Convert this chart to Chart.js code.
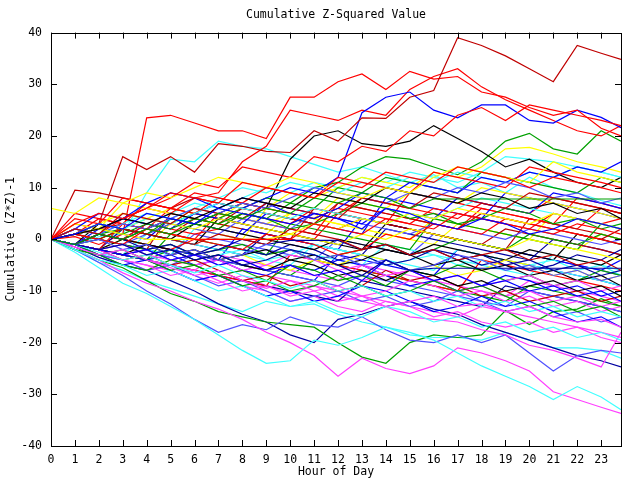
<!DOCTYPE html>
<html>
<head>
<title>Cumulative Z-Squared Value</title>
<script src="https://cdn.jsdelivr.net/npm/chart.js"></script>
<style>
  body { margin: 0; background: #fff; }
</style>
</head>
<body>
<canvas id="myChart" width="640" height="480"></canvas>
<script>
// hour of day for every sample (last one is 23:50)
const hours = [0, 1, 2, 3, 4, 5, 6, 7, 8, 9, 10, 11, 12, 13, 14, 15, 16, 17, 18, 19, 20, 21, 22, 23, 23.83];

// cumulative (z*z)-1, one array per walk
const w01 = [0, 3, 5, 4, 6, 9, 8, 7, 11, 10, 9, 8, 11, 10, 13, 12, 11, 14, 13, 12, 10, 12, 11, 10, 9];
const w02 = [6, 5, 8, 7, 9, 8, 10, 12, 11, 10, 12, 11, 9, 8, 10, 9, 12, 14, 13, 12, 11, 15, 13, 12, 11];
const w03 = [0, 1, 3, 2, 5, 4, 3, 6, 5, 4, 3, 5, 4, 2, 6, 5, 3, 2, 4, 3, 1, 2, 4, 3, 2];
const w04 = [0, -1, 1, 0, 2, 1, 3, 5, 4, 6, 5, 8, 7, 9, 8, 6, 7.8, 7.8, 7.8, 7.8, 7.8, 7.8, 7.8, 7.8, 7.8];
const w05 = [0, -1, -2, -1, -3, -2, -4, -3, -5, -4, -2, -3, -5, -7, -4, -6, -5.6, -5.6, -5.6, -5.6, -5.6, -5.6, -5.6, -5.6, -5.6];
const w06 = [0, -1.5, -3, -2, -4, -5.5, -7, -6, -8, -9.5, -8, -10, -12, -11, -13, -12, -11, -13, -12.5, -14, -13, -15, -16, -15.5, -17];
const w07 = [0, -1, -2.5, -4, -3, -5, -6.5, -5, -7, -8, -9.5, -8, -10, -9, -11, -10, -12, -11, -13, -12, -14, -13, -15, -14, -15];
const w08 = [0, 1, 2, 4, 3, 5, 4, 6, 8, 7, 6, 9, 8, 7, 10, 9, 8, 7, 9, 8, 6, 7, 5, 6, 4];
const w09 = [0, 2, 1, 5, 4, 3, 6, 5, 4, 7, 6, 5, 4, 8, 7, 6, 9, 8, 7, 6, 9, 8, 7, 6, 5];
const w10 = [0, -1, 0, -2, -1, -3, -2, -4, -3, -1, -2, -4, -3, -5, -4, -6, -5, -3, -4, -6, -5, -7, -6, -8, -7];
const w11 = [0, 1, 0, -1, 2, 1, 0, 0, 0, 0, 0, 3, 2, 1, 4, 3, 2, 5, 4, 3, 2, 1, 3, 2, 1];
const w12 = [0, 1, 2, 1, 0, 0, 0, 0, 0, 0, 1, 3, 2, 4, 3, 5, 4, 6, 5, 4, 3, 5, 4, 3, 2];
const w13 = [0, -1, -2, -3, -2, -4, -3, -5, -4, -6, -5, -7, -6, -8, -4, -6, -8, -7, -9, -8, -10, -9, -11, -10, -12];
const w14 = [0, -1, -3, -2, -4, -6, -5, -7, -9, -8, -10, -9, -7, -9, -11, -10, -8, -10, -9, -11, -13, -12, -14, -13, -15];
const w15 = [0, -1, -2, -4, -5, -7, -6, -8, -10, -9, -11, -10, -9, -11, -10, -8, -9, -11, -10, -12, -11, -13, -12, -14, -13];
const w16 = [0, 1, 3, 2, 4, 3, 5, 7, 6, 5, 4, 6, 5, 4, 3, 5, 4, 6, 8, 7, 6, 5, 4, 3, 2];
const w17 = [0, -1, -2, -3, -1, -2, -4, -3, -5, -6, -4, -5, -7, -6, -8, -6, -7, -9, -8, -10, -9, -8, -10, -9, -11];
const w18 = [0, 1, 0, 2, 1, 0, -1, 1, 0, -1, 2, 1, 0, -2, -1, -3, -2, -4, -3, -2, -4, -3, -5, -4, -6];
const w19 = [0, 2, 1, 3, 2, 4, 6, 5, 7, 6, 8, 10, 9, 8, 7, 9, 8, 10, 9, 11, 10, 8, 9, 7, 8];
const w20 = [0, -1, 1, 0, -2, -1, -3, -2, 0, -1, -0.2, -0.2, -0.2, -2, -1, -3, -2, -4, -3, -5, -4, -6, -5, -7, -6];
const w21 = [0, 4, 3, 8, 7, 6, 9, 8, 7, 10, 9, 8, 12, 11, 10, 9, 13, 12, 11, 10, 14, 13, 12, 11, 10];
const w22 = [0, 1, 2, 1, 3, 2, 4, 3, 5, 4, 2, 3, 5, 7, 6, 4, 5, 3, 4, 6, 5, 3, 4, 2, 3];
const w23 = [0, 2, 5, 4, 7, 9, 8, 6, 8, 7, 5, 4, 6, 9, 8, 11, 10, 9, 12, 11, 13, 12, 14, 13, 15];
const w24 = [0, -1, -2, -1, -3, -4, -3, -5, -4, -6, -5, -7, -6, -5, -7, -6, -8, -7, -9, -8, -7, -9, -8, -10, -9];
const w25 = [0, -2, -4, -5, -7, -6, -8, -10, -9, -11, -13, -12, -14, -15, -13, -14, -16, -15, -17, -16, -18, -17, -19, -18, -19.5];
const w26 = [0, 1, 3, 5, 4, 3, 2, 4, 3, 2, 1, 0, -1, 1, 0, 2, 1, 0, -1, -2, 0, -1, -2, -3, -4];
const w27 = [0, -1, -2, 0, -1, -3, -2, -4, -3, -2, -4, -3, -5, -4, -2, -3, -5, -4, -6, -5, -7, -6, -8, -7, -9];
const w28 = [0, -1, 1, 0, -1, -2, 0, -1, -2, 1, 0, -1, -3, -2, 1, 0, 3, 2, 1, 4, 3, 2, 1, 0, -1];
const w29 = [0, -2, -3, -5, -6, -4, -5, -7, -6, -8, -5, -6, -8, -7, -9, -6, -7, -5, -6, -8, -7, -9, -8, -6, -7];
const w30 = [0, -1, -3, -5, -4, -6, -8, -7, -9, -11, -10, -12, -11, -9, -10, -12, -14, -13, -11, -13, -12, -14, -16, -15, -17];
const w31 = [0, -1, -2, -4, -3, -5, -4, -6, -8, -7, -9, -8, -10, -9, -6, -8, -7, -9, -11, -10, -12, -11, -10, -12, -11];
const w32 = [0, -1, -3, -4, -6, -5, -7, -9, -8, -10, -12, -11, -10, -12, -11, -13, -12, -10, -12, -14, -13, -15, -14, -16, -15];
const w33 = [0, -1, -2, -3, -2, -4, -5, -4, -6, -5, -3, -4, -6, -8, -7, -6, -8, -10, -9, -11, -10, -12, -11, -13, -12];
const w34 = [0, 2, 1, 3, 5, 4, 6, 8, 10, 9, 11, 10, 9, 11, 10, 12, 11, 13, 12, 11, 13, 12, 14, 13, 12];
const w35 = [0, -1, -2, 0, -1, -3, -2, -4, -3, -5, -6, -4, -5, -3, -4, -6, -5, -7, -6, -4, -5, -7, -6, -8, -7];
const w36 = [0, 5, 4, 3, 7, 6, 5, 8, 7, 6, 5, 4, 6, 5, 4, 3, 6, 5, 4, 3, 2, 5, 4, 3, 4];
const w37 = [0, -1, 0, 2, 1, 4, 3, 2, 5, 4, 7, 6, 10, 9, 12, 11, 10, 9, 13, 12, 11, 10, 9, 12, 11];
const w38 = [0, 1, 2, 4, 3, 2, 5, 4, 3, 7, 6, 5, 4, 3, 6, 5, 4, 8, 7, 6, 5, 9, 8, 7, 6];
const w39 = [0, 1, 3, 2, 1, 0, 3, 2, 1, 0, -1, -2, 0, -1, -2, -3, -1, -2, -3, -4, -2, -3, -4, -5, -3];
const w40 = [0, -1, -2, -3, -2, -4, -3, -1, -2, -3, -1, -2, -4, -3, -5, -4, -2, -3, -5, -4, -6, -5, -3, -4, -2];
const w41 = [0, -1, -3, -4, -5, -6, -8, -7, -9, -10, -12, -11, -13, -14, -12, -13, -15, -14, -16, -17, -16, -18, -17, -19, -20];
const w42 = [0, 1, 0, -1, 1, 3, 2, 1, 4, 3, 2, 5, 4, 3, 2, 1, 3, 2, 1, 0, 2, 1, 0, -1, 0];
const w43 = [0, 1, 2, 3, 2, 1, 4, 3, 6, 5, 4, 3, 7, 6, 5, 4, 3, 2, 5, 4, 3, 2, 1, 0, 2];
const w44 = [0, 1, 0, 2, 4, 3, 6, 5, 4, 3, 5, 4, 8, 7, 6, 9, 8, 7, 10, 9, 8, 7, 6, 5, 4];
const w45 = [0, -1, -2, -1, -3, -2, -4, -3, -2, -4, -3, -1, -2, -3, -5, -4, -3, -5, -4, -6, -5, -4, -6, -5, -7];
const w46 = [0, 2, 1, 0, 3, 2, 1, 2, 5, 4, 3, 6, 5, 8, 7, 6, 5, 4, 7, 6, 5, 8, 7, 6, 5];
const w47 = [0, -1, -2, -3, -4, -3, -5, -4, -6, -7, -5, -6, -4, -5, -7, -9, -8, -10, -9, -7, -8, -10, -9, -11, -10];
const w48 = [0, 1, 0, -1, -2, -1, -3, -2, -1, -3, -2, -4, -3, -2, -1, -3, -2, 0, -1, -2, 1, 0, -1, 1, 0];
const w49 = [0, 9.5, 9, 8, 7, 6, 8, 7, 6, 5, 4, 3, 2, 4, 3, 2, 1, 0, -1, 2, 1, 0, -1, -2, -3];
const w67 = [0, -1, 2, 1, 0, 4, 3, 2, 1, 5, 4, 3, 2, 1, 8, 7, 6, 5, 4, 9, 8, 7, 6, 5, 4];
const w68 = [0, -1, -2, 3, 2, 1, 0, 5, 4, 3, 2, 1, 7, 6, 5, 4, 3, 2, 6, 5, 4, 3, 8, 7, 6];
const w69 = [0, -1, -2, -3, -4, 1, 0, -1, -2, -3, 3, 2, 1, 0, -1, -2, 4, 3, 2, 1, 0, -1, -2, 3, 2];
const w70 = [0, -1, -2, -3, -4, -5, -6, -3, -4, -5, -6, -7, -8, -5, -6, -7, -8, -9, -10, -11, -8, -9, -10, -11, -12];
const w71 = [0, -1, -2, -3, 1, 0, -1, -2, -3, -4, -5, -1, -2, -3, -4, -5, -6, -2, -3, -4, -5, -6, -7, -8, -9];
const w72 = [0, -1, -2, 2, 1, 0, -1, -2, -3, 1, 0, -1, -2, -3, 2, 1, 0, -1, -2, -3, -4, 0, -1, -2, -3];
const w73 = [0, 2, 1, 0, -1, 3, 2, 1, 0, 6, 5, 4, 3, 2, 1, 0, 4, 3, 2, 1, 0, -1, -2, 1, 0];
const w74 = [0, -1, -2, -3, -4, -5, -3, -4, -5, -6, -7, -8, -9, -7, -8, -9, -10, -11, -12, -13, -10, -11, -12, -13, -14];
const w75 = [0, -1, 3, 2, 1, 0, -1, 4, 3, 2, 1, 0, -1, -2, 3, 2, 1, 0, -1, -2, -3, -4, 1, 0, -1];
const w76 = [0, 2, 1, 0, -1, -2, -3, -4, 2, 1, 0, -1, -2, 4, 3, 2, 1, 0, -1, -2, -3, -4, -5, -6, -4];
const w77 = [0, -1, -2, -3, -4, -5, -6, -7, -8, -9, -3, -4, -5, -6, -7, -8, -9, -10, -4, -5, -6, -7, -8, -9, -10];
const w78 = [0, 1, 0, -1, -2, 5, 4, 3, 2, 1, 0, 6, 5, 4, 3, 2, 1, 0, -1, -2, 4, 3, 2, 1, 0];
const w79 = [0, -1, -2, -3, -4, -2, -3, -4, -5, -6, -7, -4, -5, -6, -7, -8, -9, -10, -11, -12, -9, -10, -11, -12, -13];
const w80 = [0, -1, -2, -3, -4, -5, -6, -7, -6, -7, -8, -9, -10, -11, -12, -13, -14, -15, -13, -14, -15, -16, -17, -18, -19];
const w81 = [0, 1, 0, -1, -2, -3, 2, 1, 0, -1, -2, -3, -4, -5, -1, -2, -3, -4, -5, -6, -7, -3, -4, -5, -6];
const w82 = [0, -1, 1, 0, -1, -2, -3, -4, -5, -6, -7, -8, -3, -4, -5, -6, -7, -2, -3, -4, -5, -6, -7, -8, -9];
const w83 = [0, 3, 2, 7, 6, 5, 4, 3, 2, 1, 5, 4, 3, 2, 1, 0, -1, 3, 2, 1, 0, 5, 4, 3, 2];
const w84 = [0, -1, -2, -3, -4, -5, -6, -7, -8, -9, -10, -11, -12, -8, -9, -10, -11, -12, -13, -9, -10, -11, -12, -13, -14];
const w85 = [0, 1, 4, 3, 2, 6, 5, 4, 3, 2, 1, 0, 5, 4, 3, 9, 8, 7, 6, 5, 4, 3, 2, 6, 5];
const w86 = [0, -1, 0, -1, -2, -3, 1, 0, -1, -2, -3, -4, 0, -1, -2, -3, 1, 0, -1, -2, -3, -4, -5, -6, -7];
const w50 = [0, 1, 3, 16, 13.5, 16, 13, 18.5, 18, 17, 16.8, 21, 19, 23.5, 23.4, 27.5, 28.8, 39, 37.5, 35.5, 33, 30.5, 37.5, 36, 34.8];
const w51 = [0, 0.5, -1, 1, 23.5, 24, 22.5, 21, 21, 19.5, 27.5, 27.5, 30.5, 32, 29, 32.5, 31, 31.5, 28.5, 27.5, 25.5, 24, 25, 21.5, 20];
const w52 = [0, 3, 2, 4, 6, 8, 11, 10, 14, 13, 12, 16, 15, 18, 17, 21, 20, 24, 25.5, 23, 26, 25, 24, 23, 22];
const w53 = [0, 2, 1, 0, 3, 2, 5, 7, 6, 8, 10, 9, 12, 24.5, 27.5, 28.5, 25, 23.5, 26, 26, 23, 22.5, 25, 23.6, 21.6];
const w54 = [0, -1, 1, 0, 2, 4, 3, 5, 7, 6, 15.5, 20, 21, 18.5, 18, 19, 22, 19.5, 17, 14, 15.5, 13, 11, 10, 12];
const w55 = [0, 2, 1, 4, 6, 5, 8, 9, 15, 18, 25, 24, 23, 25, 24, 29, 31.5, 33, 29.5, 27, 25, 23, 21, 20, 22];
const w56 = [0, -1, 1, 2, 1, 3, 5, 4, 6, 8, 7, 10, 11, 14, 16, 15.5, 14, 12.5, 15, 19, 20.5, 17.5, 16.5, 21, 19];
const w57 = [0, -1, 0.5, 1, 9, 15.5, 15, 19, 18, 17.5, 16, 14.5, 13, 14, 12.5, 11, 12.5, 10, 11, 9, 12, 10, 9, 7.5, 6.5];
const w58 = [0, 1, 3, 2, 4, 6, 5, 4, 7, 6, 9, 8, 10, 12, 11, 10, 13, 12, 14, 17.5, 17.8, 16.5, 15, 14, 13];
const w59 = [0, 1, 2, 4, 3, 5, 7, 6, 8, 10, 9, 11, 10, 12, 11, 13, 12, 11, 13, 16, 15.5, 15, 14, 13, 12];
const w60 = [0, -2.5, -5.5, -8.5, -10.5, -13, -15.5, -18.5, -21.5, -24, -23.5, -19.5, -20.5, -19, -17, -18, -19.5, -22, -24.5, -26.5, -28.5, -31, -28.5, -30.5, -33];
const w61 = [0, -2, -4, -6.5, -8.5, -10, -12, -13.5, -15.5, -18, -20, -22.5, -26.5, -23, -25, -26, -24.5, -21, -22, -23.5, -25.5, -29.5, -31, -32.5, -33.7];
const w62 = [0, -1.5, -3, -4, -6, -5, -7, -8.5, -7, -9, -10.5, -9, -11, -12, -13, -15, -15.5, -16, -17.5, -18.5, -20.5, -21.5, -23, -24.7, -18];
const w63 = [0, -2, -4.5, -7, -10, -12.5, -15.5, -18, -16.5, -17.5, -15, -16.5, -17, -15, -17.5, -19.5, -20, -18.5, -20, -18.5, -22, -25.5, -22.5, -21.5, -22];
const w64 = [0, -2, -4, -5.5, -8, -10.5, -12, -14, -15, -16, -16.5, -17, -20, -22.8, -24, -20, -18.5, -19, -18.5, -13.8, -16.5, -14, -13.5, -11.5, -13];
const w65 = [0, -1.5, -3.5, -5, -6, -8, -10, -12.5, -14.5, -16, -18.5, -20, -15.5, -14.5, -13, -12, -13.5, -14.5, -16.5, -18, -19.5, -21, -22.5, -23.5, -24.7];
const w66 = [0, -2, -4.5, -6, -8, -9.5, -11, -12.5, -14, -12, -13, -12.5, -14.5, -16, -17, -18.5, -19, -19, -19.5, -18, -19.5, -21, -21, -21.5, -23];

const walks = [w01, w02, w03, w04, w05, w06, w07, w08, w09, w10, w11, w12, w13, w14, w15, w16, w17,
  w18, w19, w20, w21, w22, w23, w24, w25, w26, w27, w28, w29, w30, w31, w32, w33, w34, w35, w36,
  w37, w38, w39, w40, w41, w42, w43, w44, w45, w46, w47, w48, w49,
  w67, w68, w69, w70, w71, w72, w73, w74, w75, w76, w77, w78, w79, w80, w81, w82, w83, w84, w85, w86,
  w50, w51, w52, w53, w54, w55, w56, w57, w58, w59, w60, w61, w62, w63, w64, w65, w66];

const palette = {
  R: '#ff0000', DR: '#c00000', G: '#00a000', B: '#0000ff', M: '#ff40ff',
  C: '#40ffff', Y: '#ffff00', K: '#000000', LB: '#5050ff', DB: '#0000a0'
};
const walkColors = ['R', 'Y', 'B', 'G', 'DB', 'M', 'C', 'K', 'DR', 'LB', 'R', 'Y', 'B', 'G', 'M', 'C', 'K',
  'DR', 'LB', 'DB', 'R', 'G', 'B', 'M', 'C', 'Y', 'K', 'R', 'G', 'B', 'DR', 'LB', 'M', 'C', 'Y', 'R',
  'G', 'B', 'K', 'DB', 'M', 'LB', 'DR', 'Y', 'C', 'R', 'B', 'G', 'DR',
  'B', 'R', 'G', 'M', 'C', 'DB', 'Y', 'LB', 'K', 'B', 'R', 'DR', 'G', 'M', 'C', 'B', 'Y', 'DB', 'R', 'LB',
  'DR', 'R', 'R', 'B', 'K', 'R', 'G', 'C', 'Y', 'C', 'C', 'M', 'M', 'LB', 'G', 'DB', 'C'];

const FONT = { family: "'DejaVu Sans Mono', monospace", size: 11.5, weight: 'normal' };

// border box with inward tick marks, like the original plot
const frameTicks = {
  id: 'frameTicks',
  afterDatasetsDraw(chart) {
    const { ctx, chartArea: a, scales: { x, y } } = chart;
    ctx.save();
    ctx.strokeStyle = '#000';
    ctx.lineWidth = 1;
    ctx.beginPath();
    x.ticks.forEach(t => {
      const px = Math.round(x.getPixelForValue(t.value)) + 0.5;
      ctx.moveTo(px, a.bottom); ctx.lineTo(px, a.bottom - 6);
      ctx.moveTo(px, a.top); ctx.lineTo(px, a.top + 6);
    });
    y.ticks.forEach(t => {
      const py = Math.round(y.getPixelForValue(t.value)) + 0.5;
      ctx.moveTo(a.left, py); ctx.lineTo(a.left + 6, py);
      ctx.moveTo(a.right, py); ctx.lineTo(a.right - 6, py);
    });
    ctx.stroke();
    ctx.strokeRect(Math.round(a.left) + 0.5, Math.round(a.top) + 0.5,
      Math.round(a.right - a.left), Math.round(a.bottom - a.top));
    ctx.restore();
  }
};

const ctx = document.getElementById('myChart').getContext('2d');
new Chart(ctx, {
  type: 'line',
  data: {
    datasets: walks.map((w, i) => ({
      data: w.map((v, j) => ({ x: hours[j], y: v })),
      borderColor: palette[walkColors[i]],
      borderWidth: 1.2,
      pointRadius: 0,
      tension: 0,
      fill: false
    }))
  },
  options: {
    responsive: false,
    animation: false,
    events: [],
    layout: { padding: { left: 0, right: 19, top: 0, bottom: 0 } },
    plugins: {
      legend: { display: false },
      tooltip: { enabled: false },
      title: {
        display: true,
        text: 'Cumulative Z-Squared Value',
        color: '#000',
        font: FONT,
        fullSize: false,
        padding: { top: 8.4, bottom: 10.4 }
      }
    },
    scales: {
      x: {
        type: 'linear',
        min: 0,
        max: 23.83,
        grid: { display: false, drawTicks: false },
        border: { display: false },
        ticks: { stepSize: 1, includeBounds: false, maxRotation: 0, autoSkip: false, padding: 7, color: '#000', font: FONT },
        title: { display: true, text: 'Hour of Day', color: '#000', font: FONT, padding: { top: 0, bottom: 1.4 } },
        afterFit(scale) { scale.height = 34; }
      },
      y: {
        min: -40,
        max: 40,
        grid: { display: false, drawTicks: false },
        border: { display: false },
        ticks: { stepSize: 10, padding: 9, color: '#000', font: FONT },
        title: { display: true, text: 'Cumulative (Z*Z)-1', color: '#000', font: FONT, padding: { top: 4, bottom: 0 } },
        afterFit(scale) { scale.width = 51; }
      }
    }
  },
  plugins: [frameTicks]
});
</script>
</body>
</html>
